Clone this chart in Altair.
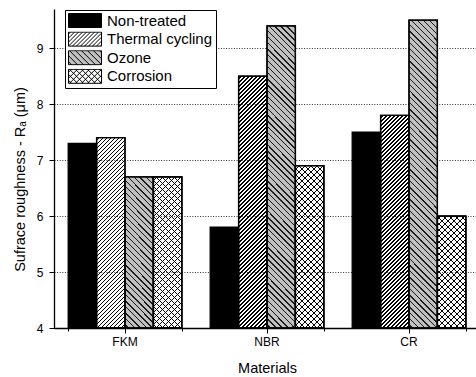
import altair as alt
import pandas as pd

# ---------------- data ----------------
materials = ["FKM", "NBR", "CR"]
series = ["Non-treated", "Thermal cycling", "Ozone", "Corrosion"]
non_treated = [7.3, 5.8, 7.5]
thermal_cycling = [7.4, 8.5, 7.8]
ozone = [6.7, 9.4, 9.5]
corrosion = [6.7, 6.9, 6.0]
y_ticks = [4, 4.5, 5, 5.5, 6, 6.5, 7, 7.5, 8, 8.5, 9, 9.5]

values_by_series = dict(zip(series, [non_treated, thermal_cycling, ozone, corrosion]))
rows = [
    {"material": m, "series": s, "value": v}
    for s in series
    for m, v in zip(materials, values_by_series[s])
]
df = pd.DataFrame(rows)

# ---------------- layout / style ----------------
FONT = "Liberation Sans"
W, H = 422, 319
XRANGE = 426
YMIN, YMAX = 4, 9.7
STEP = XRANGE / len(materials)
BAR_W = STEP * 0.8 / len(series)

fill_colors = ["black", "rgba(0,0,0,0)", "#c0c0c0", "rgba(0,0,0,0)"]

# hatch specs: (direction, horizontal period px, horizontal line thickness px, colour)
hatch = {
    "Thermal cycling": [("/", 4.0, 1.4, "#000000")],
    "Ozone": [("\\", 6.0, 1.8, "#1a1a1a")],
    "Corrosion": [("/", 6.0, 1.5, "#000000"), ("\\", 6.0, 1.5, "#000000")],
}


def stripe_gradient(w, h, direction, period, thick, color):
    total = w + h
    r = h / w
    a = (1 + r) / (1 + r * r)
    if direction == "/":
        x1, y1, x2, y2 = 0, 0, a, a * r
    else:
        x1, y1, x2, y2 = 0, 1, a, 1 - a * r
    clear = "rgba(0,0,0,0)"
    stops = [{"offset": 0, "color": clear}]
    s = period / 2
    while s < total:
        a0 = round(max(s, 0) / total, 5)
        b0 = round(min(s + thick, total) / total, 5)
        stops += [
            {"offset": a0, "color": clear},
            {"offset": a0, "color": color},
            {"offset": b0, "color": color},
            {"offset": b0, "color": clear},
        ]
        s += period
    stops.append({"offset": 1, "color": clear})
    return {"gradient": "linear", "x1": x1, "y1": y1, "x2": round(x2, 5),
            "y2": round(y2, 5), "stops": stops}


def legend_path(direction_list, period_px):
    s = 33 / 2.0
    hh = 7 / s
    parts = [f"M-1,{-hh:.4f}H1V{hh:.4f}H-1Z"]
    p = period_px / s
    for d in direction_list:
        c = -1 - hh + p / 2
        while c < 1 + hh:
            if d == "/":
                ya, yb = max(-hh, c - 1), min(hh, c + 1)
                if yb > ya:
                    parts.append(f"M{c - ya:.4f},{ya:.4f}L{c - yb:.4f},{yb:.4f}")
            else:
                ya, yb = max(-hh, -1 - c), min(hh, 1 - c)
                if yb > ya:
                    parts.append(f"M{c + ya:.4f},{ya:.4f}L{c + yb:.4f},{yb:.4f}")
            c += p
    return "".join(parts)


shape_paths = [
    legend_path([], 4),
    legend_path(["/"], 4),
    legend_path(["\\"], 6),
    legend_path(["/", "\\"], 6),
]

# ---------------- encodings ----------------
def x_scale():
    return alt.Scale(domain=materials, range=[0, XRANGE], paddingInner=0.2, paddingOuter=0.1)


x_axis_main = alt.Axis(
    title="Materials", labelAngle=0, labelFont=FONT, labelFontSize=12, labelColor="black",
    labelPadding=3, tickSize=5, tickColor="black", tickWidth=1, domainColor="black",
    domainWidth=1.3, titleFont=FONT, titleFontSize=14.5, titleFontWeight="normal",
    titleColor="black", titleX=213, titleY=44, titleBaseline="alphabetic", grid=False,
    orient="bottom",
)
x_axis_minor = alt.Axis(
    title=None, labels=False, domain=False, grid=False, tickBand="extent", tickSize=3,
    tickColor="black", tickWidth=1, orient="bottom",
)

x_main = alt.X("material:N", sort=materials, scale=x_scale(), axis=x_axis_main)
x_plain = alt.X("material:N", sort=materials, scale=x_scale(), axis=None)
x_minor = alt.X("material:N", sort=materials, scale=x_scale(), axis=x_axis_minor)

xo_enc = alt.XOffset(
    "series:N", sort=series, scale=alt.Scale(domain=series, paddingInner=0, paddingOuter=0)
)
y_enc = alt.Y(
    "value:Q",
    scale=alt.Scale(domain=[YMIN, YMAX], zero=False, nice=False, clamp=True),
    axis=alt.Axis(
        values=y_ticks, format="d",
        labelExpr="datum.value % 1 == 0 ? datum.label : ''",
        tickSize={"condition": {"test": "datum.value % 1 == 0", "value": 5}, "value": 3},
        labelFont=FONT, labelFontSize=12, labelColor="black", labelPadding=6,
        tickColor="black", tickWidth=1, domainColor="black", domainWidth=1.3,
        grid=True, gridDash=[1, 1.6], gridColor="#333333", gridWidth=1,
        title="Sufrace roughness - Rₐ  (μm)", titleFont=FONT, titleFontSize=14.5,
        titleFontWeight="normal", titleColor="black", titleAngle=270, titleX=-30,
        titleY=170, titleAlign="center", titleBaseline="alphabetic",
    ),
)
fill_scale = alt.Scale(domain=series, range=fill_colors)

legend = alt.Legend(
    title=None, orient="none", legendX=11, legendY=1, fillColor="white",
    strokeColor="black", padding=3, cornerRadius=0, clipHeight=15,
    labelFont=FONT, labelFontSize=15, labelColor="black", labelOffset=5,
    symbolSize=1089, symbolStrokeColor="black", symbolStrokeWidth=1,
    symbolOpacity=1, rowPadding=2.6, symbolOffset=0,
)

legend_layer = (
    alt.Chart(df)
    .transform_filter("false")
    .mark_point(filled=True, size=1089, strokeWidth=1, opacity=1)
    .encode(
        fill=alt.Fill("series:N", scale=fill_scale, legend=legend, sort=series),
        shape=alt.Shape("series:N", scale=alt.Scale(domain=series, range=shape_paths),
                        legend=legend, sort=series),
        stroke=alt.Stroke("series:N", scale=alt.Scale(domain=series, range=["black"] * 4),
                          legend=legend, sort=series),
    )
)

base = (
    alt.Chart(df)
    .mark_bar(stroke="black", strokeWidth=1.3)
    .encode(
        x=x_main, xOffset=xo_enc, y=y_enc,
        fill=alt.Fill("series:N", scale=fill_scale, legend=None, sort=series),
    )
)

minor_ticks = (
    alt.Chart(df)
    .transform_filter("false")
    .mark_bar()
    .encode(x=x_minor, xOffset=xo_enc, y=y_enc)
)

layers = [legend_layer, base, minor_ticks]
for s_name, specs in hatch.items():
    for m, v in zip(materials, values_by_series[s_name]):
        h_px = (v - YMIN) / (YMAX - YMIN) * H
        for (d, per, th, col) in specs:
            layers.append(
                alt.Chart(df)
                .transform_filter((alt.datum.series == s_name) & (alt.datum.material == m))
                .mark_bar(fill=stripe_gradient(BAR_W, h_px, d, per, th, col),
                          stroke="black", strokeWidth=1.3)
                .encode(x=x_plain, xOffset=xo_enc, y=y_enc)
            )

chart = (
    alt.layer(*layers)
    .resolve_axis(x="independent")
    .properties(
        width=W, height=H, autosize="none",
        padding={"left": 54, "top": 9, "right": 0, "bottom": 49},
        background="white",
    )
    .configure_view(stroke=None)
    .configure_legend(strokeWidth=1)
)

chart.save("out.html", embed_options={"renderer": "svg", "actions": False})
